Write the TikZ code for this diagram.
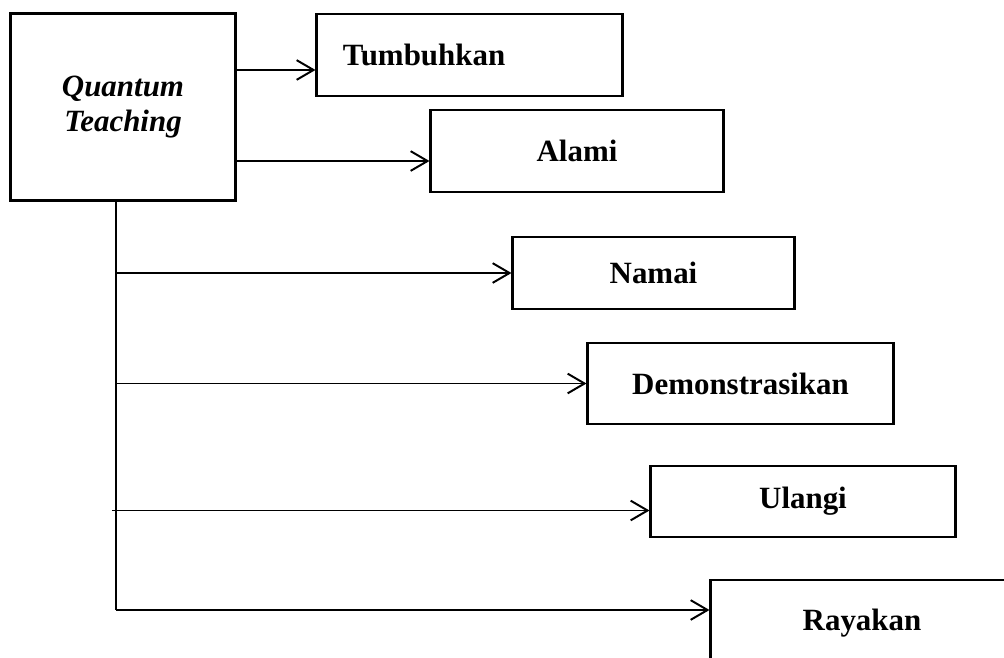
\documentclass[tikz,border=0pt]{standalone}
\usepackage{fontspec}
\setmainfont{Liberation Serif}
\usetikzlibrary{arrows.meta}

\tikzset{
  stepbox/.style={draw,line width=2.1pt,minimum height=2.05cm,
    font=\bfseries\fontsize{22}{25}\selectfont,inner sep=0pt},
  arr/.style={line width=1.4pt,-{Straight Barb[length=12pt,width=14pt,line width=1.4pt]}},
}

\begin{document}
\begin{tikzpicture}[x=0.025cm,y=-0.025cm]
        \path[use as bounding box,clip] (0,0) rectangle (1004,657);
        % main box
        \node[stepbox,minimum width=5.6cm,minimum height=4.65cm,align=center,
              font=\bfseries\itshape\fontsize{22}{25}\selectfont] (qt) at (123,107) {Quantum\\Teaching};
        % steps
        \node[stepbox,text width=6.325cm,inner xsep=0.65cm,align=left] (tumb) at (469.5,55) {Tumbuhkan};
        \node[stepbox,minimum width=7.3cm] (alami) at (577,151) {Alami};
        \node[stepbox,minimum width=7.025cm,minimum height=1.8cm] (namai) at (653.5,273) {Namai};
        \node[stepbox,minimum width=7.625cm,minimum height=2.025cm] (demo) at (740.5,383.5) {Demonstrasikan};
        \node[stepbox,minimum width=7.6cm,minimum height=1.775cm] (ulangi) at (803,501.5) {Ulangi};
        \node[stepbox,minimum width=7.55cm,minimum height=2.15cm] (raya) at (862,623) {Rayakan};
        % arrows from the main box
        \draw[arr] ([yshift=0.925cm]qt.east) coordinate (a1) -- (a1 -| tumb.west);
        \draw[arr] ([yshift=-1.35cm]qt.east) coordinate (a2) -- (a2 -| alami.west);
        % trunk and branches
        \coordinate (trunk) at ([xshift=-0.175cm]qt.south);
        \coordinate (u) at ([yshift=-0.225cm]ulangi.west);
        \coordinate (r) at ([yshift=0.325cm]raya.west);
        \draw[line width=1pt] (trunk) -- (trunk |- r);
        \draw[arr] (trunk |- namai.west) -- (namai.west);
        \draw[arr] (trunk |- demo.west) -- (demo.west);
        \draw[arr] ([xshift=-0.1cm]trunk |- u) -- (u);
        \draw[arr] (trunk |- r) -- (r);
    \end{tikzpicture}
\end{document}
